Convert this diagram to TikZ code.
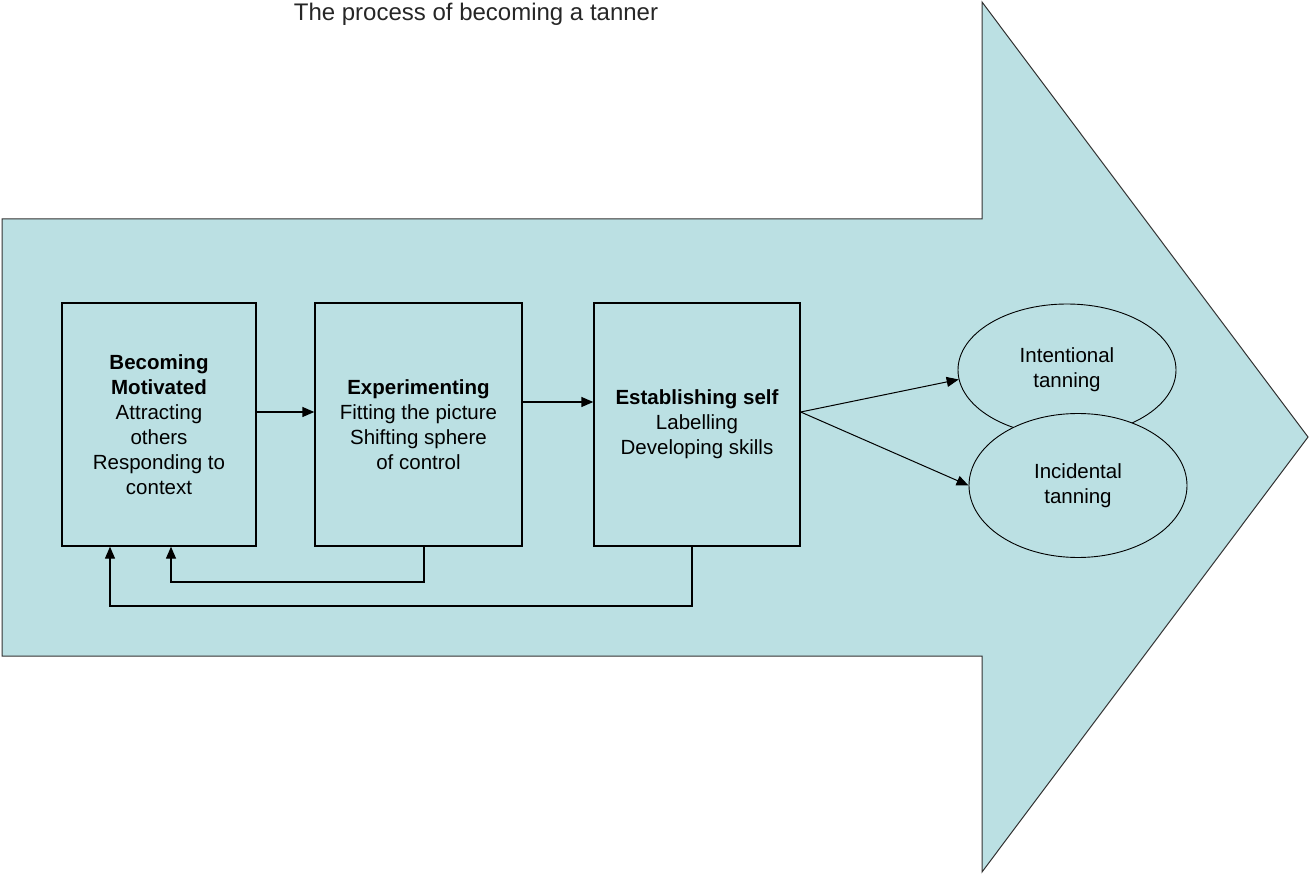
\documentclass[tikz,border=0pt]{standalone}
\usepackage{fontspec}
\setmainfont{Liberation Sans}
\usetikzlibrary{arrows.meta,shapes.geometric}
\definecolor{teal}{RGB}{187,224,227}
\tikzset{
  box/.style={draw=black, line width=1.4pt, fill=teal, rectangle, inner sep=0pt,
    minimum height=243pt, align=center, font=\fontsize{20.5}{25}\selectfont},
  oval/.style={draw=black, line width=0.9pt, fill=teal, ellipse, inner sep=0pt,
    align=center, font=\fontsize{20.5}{25}\selectfont},
  arr/.style={draw=black, line width=1.4pt, -{Triangle[length=12pt,width=10pt]}},
  thinarr/.style={draw=black, line width=1pt, -{Triangle[length=12pt,width=10pt]}},
  big/.style={draw=black!80, line width=1pt, fill=teal, line join=miter}
}
\begin{document}
\begin{tikzpicture}[x=1pt,y=-1pt]
\useasboundingbox (0,0) rectangle (1310,874);
% big arrow
\draw[big] (2,219) -- (982,219) -- (982,2) -- (1308,437) -- (982,872) -- (982,656) -- (2,656) -- cycle;
% title
\node[anchor=base, font=\fontsize{24}{30}\selectfont, text=black!85] (title) at (476,21) {The process of becoming a tanner};
% boxes
\node[box, minimum width=194pt] (b1) at (159,424.5) {\textbf{Becoming}\\\textbf{Motivated}\\Attracting\\others\\Responding to\\context};
\node[box, minimum width=207pt] (b2) at (418.5,424.5) {\textbf{Experimenting}\\Fitting the picture\\Shifting sphere\\of control};
\node[box, minimum width=206pt] (b3) at (697,424.5) {\textbf{Establishing self}\\Labelling\\Developing skills};
% ellipses
\node[oval, minimum width=218pt, minimum height=132pt] (e1) at (1067,370) {Intentional\\tanning};
\node[oval, minimum width=218pt, minimum height=144pt] (e2) at (1078,485.5) {Incidental\\tanning};
% connectors
\coordinate (y1) at (0,412);
\coordinate (y2) at (0,402);
\draw[arr] (b1.east |- y1) -- (b2.west |- y1);
\draw[arr] (b2.east |- y2) -- (b3.west |- y2);
\draw[thinarr] (b3.east |- y1) -- (e1.185);
\draw[thinarr] (b3.east |- y1) -- (e2.west);
% feedback loops
\coordinate (f1) at (424,582);
\coordinate (g1) at (171,582);
\draw[arr] (b2.south -| f1) -- (f1) -- (g1) -- (b1.south -| g1);
\coordinate (f2) at (692,606);
\coordinate (g2) at (110,606);
\draw[arr] (b3.south -| f2) -- (f2) -- (g2) -- (b1.south -| g2);
\end{tikzpicture}
\end{document}
